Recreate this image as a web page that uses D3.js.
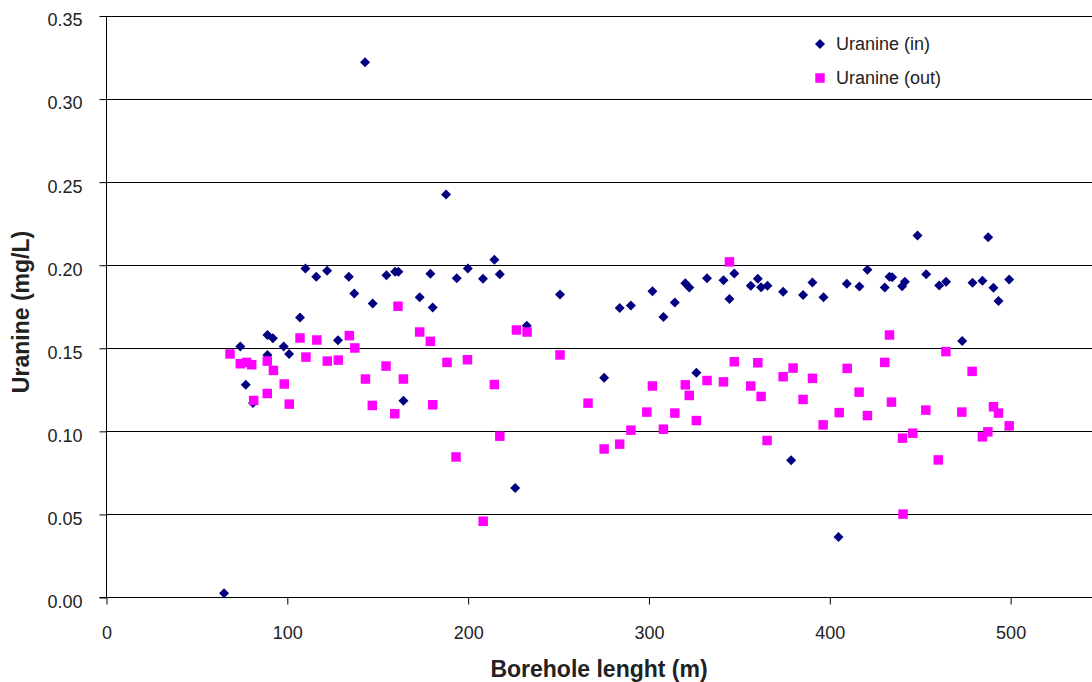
<!DOCTYPE html>
<html>
<head>
<meta charset="utf-8">
<script src="https://cdn.jsdelivr.net/npm/d3@7"></script>
<style>
  html, body { margin: 0; padding: 0; background: #fff; overflow: hidden; }
  svg { display: block; font-family: "Liberation Sans", Arial, sans-serif; }
</style>
</head>
<body>
<svg id="chart" width="1092" height="682"></svg>
<script>
// Uranine concentration along the borehole: inflow and outflow samples
const inLength = [65, 74, 77, 81, 89, 89, 92, 98, 101, 107, 110, 116, 122, 128, 134, 137, 143, 147.2, 154.8, 159.6, 161.4,
  164.2, 173.2, 179.1, 180.4, 187.8, 193.7, 199.8, 208.2, 214.5, 217.5, 226, 232.4, 250.8, 275.2, 283.8, 290, 301.9,
  308, 314.3, 320.1, 322.3, 326.2, 332.1, 341.2, 344.5, 347.2, 356.3, 360.2, 362, 365.5, 374.2, 378.6, 385.2, 390.4,
  396.5, 404.8, 409.4, 416.4, 420.8, 430.4, 433, 434.5, 440, 441.5, 448.5, 453.3, 460.5, 464.3, 473.2, 478.9, 484.4,
  487.6, 490.5, 493.3, 499.2];
const inValue = [0.0026, 0.151, 0.128, 0.117, 0.158, 0.146, 0.156, 0.151, 0.1465, 0.1686, 0.198, 0.193, 0.1966, 0.1548,
  0.193, 0.183, 0.3222, 0.1769, 0.194, 0.196, 0.196, 0.1184, 0.1807, 0.1948, 0.1745, 0.2425, 0.1922, 0.198, 0.1918,
  0.2033, 0.1946, 0.0659, 0.1636, 0.1823, 0.1323, 0.1743, 0.1757, 0.1843, 0.1689, 0.1775, 0.1891, 0.1866, 0.1353,
  0.1922, 0.191, 0.1797, 0.195, 0.1877, 0.1918, 0.1867, 0.1877, 0.1841, 0.0826, 0.1821, 0.1896, 0.1807, 0.0364,
  0.1888, 0.1872, 0.1972, 0.1866, 0.193, 0.1928, 0.1873, 0.19, 0.2179, 0.1946, 0.1878, 0.19, 0.1544, 0.1894, 0.1906,
  0.2169, 0.1864, 0.1785, 0.1914];

const outLength = [68.3, 74, 77.5, 80.3, 81.4, 88.9, 88.9, 92.3, 98.3, 101.1, 107, 110.3, 116.3, 122.1, 128.2, 134.3,
  137.3, 143.2, 147, 154.6, 159.4, 161.2, 164.2, 173.2, 179.1, 180.4, 188.3, 193.3, 199.6, 208.3, 214.5, 217.5, 226.7,
  232.6, 250.8, 266.3, 275.2, 283.8, 290, 298.8, 301.9, 308, 314.3, 320.1, 322.3, 326.2, 332.1, 341.2, 344.5, 347.2,
  356.3, 360.2, 362, 365.3, 374.2, 379.7, 385.2, 390.4, 396.3, 405.2, 409.6, 416.2, 420.8, 430.4, 433, 434.1, 440.2,
  440.5, 445.9, 453.1, 460, 464.2, 473, 478.7, 484.4, 487.4, 490.5, 493.3, 499.2];
const outValue = [0.1466, 0.1407, 0.1415, 0.1401, 0.1186, 0.1423, 0.1228, 0.1367, 0.1285, 0.1164, 0.1562, 0.1447, 0.155,
  0.1423, 0.1429, 0.1576, 0.1502, 0.1315, 0.1156, 0.1393, 0.1106, 0.1753, 0.1315, 0.1598, 0.1542, 0.116, 0.1415,
  0.0846, 0.1431, 0.0459, 0.1282, 0.0971, 0.161, 0.1598, 0.146, 0.117, 0.0894, 0.0923, 0.1007, 0.1116, 0.1273, 0.1013,
  0.111, 0.128, 0.1216, 0.1065, 0.1306, 0.1298, 0.202, 0.1419, 0.1273, 0.1413, 0.121, 0.0945, 0.1329, 0.1381, 0.1192,
  0.1319, 0.1039, 0.1113, 0.1379, 0.1236, 0.1095, 0.1415, 0.158, 0.1176, 0.0959, 0.0502, 0.0989, 0.1128, 0.0828,
  0.148, 0.1116, 0.1361, 0.0967, 0.0997, 0.1148, 0.111, 0.1033];

const xTicks = [0, 100, 200, 300, 400, 500];
const yTicks = [0, 0.05, 0.10, 0.15, 0.20, 0.25, 0.30, 0.35];
const seriesNames = ["Uranine (in)", "Uranine (out)"];
const seriesColors = ["#000080", "#ff00ff"];

const svg = d3.select("#chart");
const x = d3.scaleLinear().domain([0, 545]).range([106.5, 1092]);
const y = d3.scaleLinear().domain([0, 0.35]).range([597.5, 16]);
const labelFont = "'Liberation Sans', Arial, sans-serif";

// horizontal gridlines
svg.append("g")
  .selectAll("line")
  .data(yTicks.filter(d => d > 0))
  .join("line")
  .attr("x1", x(0)).attr("x2", 1092)
  .attr("y1", d => Math.round(y(d)) + 0.5).attr("y2", d => Math.round(y(d)) + 0.5)
  .attr("stroke", "#000").attr("stroke-width", 1);

// y axis
const yAxis = svg.append("g")
  .attr("transform", `translate(${Math.round(x(0)) - 0.5},0)`)
  .call(d3.axisLeft(y).tickValues(yTicks).tickFormat(d3.format(".2f")).tickSize(7).tickPadding(17));
yAxis.select(".domain").attr("stroke", "#000").attr("d", `M0,${y(0.35)}V${y(0)}`);
yAxis.selectAll(".tick line").attr("stroke", "#000");
yAxis.selectAll(".tick text").attr("font-size", 18).attr("fill", "#222")
  .attr("dy", "0.55em").attr("font-family", labelFont);

// x axis
const xAxis = svg.append("g")
  .attr("transform", `translate(0,${Math.round(y(0)) - 0.5})`)
  .call(d3.axisBottom(x).tickValues(xTicks).tickFormat(d3.format("d")).tickSize(7).tickPadding(22));
xAxis.select(".domain").attr("stroke", "#000").attr("d", `M${x(0) - 7},0H1092`);
xAxis.selectAll(".tick line").attr("stroke", "#000");
xAxis.selectAll(".tick text").attr("font-size", 18).attr("fill", "#222")
  .attr("font-family", labelFont);

// axis titles
svg.append("text")
  .attr("transform", `translate(29,312) rotate(-90)`)
  .attr("text-anchor", "middle")
  .attr("font-size", 23).attr("font-weight", "bold").attr("fill", "#222")
  .text("Uranine (mg/L)");
svg.append("text")
  .attr("x", 599).attr("y", 677)
  .attr("text-anchor", "middle")
  .attr("font-size", 23).attr("font-weight", "bold").attr("fill", "#222")
  .text("Borehole lenght (m)");

// markers
const diamond = d3.symbol().type(d3.symbolSquare).size(50);
const square = d3.symbol().type(d3.symbolSquare).size(90);

const inData = inLength.map((d, i) => ({ x: d, y: inValue[i] }));
const outData = outLength.map((d, i) => ({ x: d, y: outValue[i] }));

svg.append("g")
  .selectAll("path")
  .data(inData)
  .join("path")
  .attr("d", diamond)
  .attr("transform", d => `translate(${x(d.x)},${y(d.y)}) rotate(45)`)
  .attr("fill", seriesColors[0]);

svg.append("g")
  .selectAll("path")
  .data(outData)
  .join("path")
  .attr("d", square)
  .attr("transform", d => `translate(${x(d.x)},${y(d.y)})`)
  .attr("fill", seriesColors[1]);

// legend
const legend = svg.append("g");
legend.append("path").attr("d", diamond)
  .attr("transform", "translate(820,44) rotate(45)").attr("fill", seriesColors[0]);
legend.append("path").attr("d", square)
  .attr("transform", "translate(820,78)").attr("fill", seriesColors[1]);
legend.selectAll("text")
  .data(seriesNames)
  .join("text")
  .attr("x", 836)
  .attr("y", (d, i) => 44 + i * 34)
  .attr("dy", "0.35em")
  .attr("font-size", 18).attr("fill", "#222")
  .text(d => d);
</script>
</body>
</html>
